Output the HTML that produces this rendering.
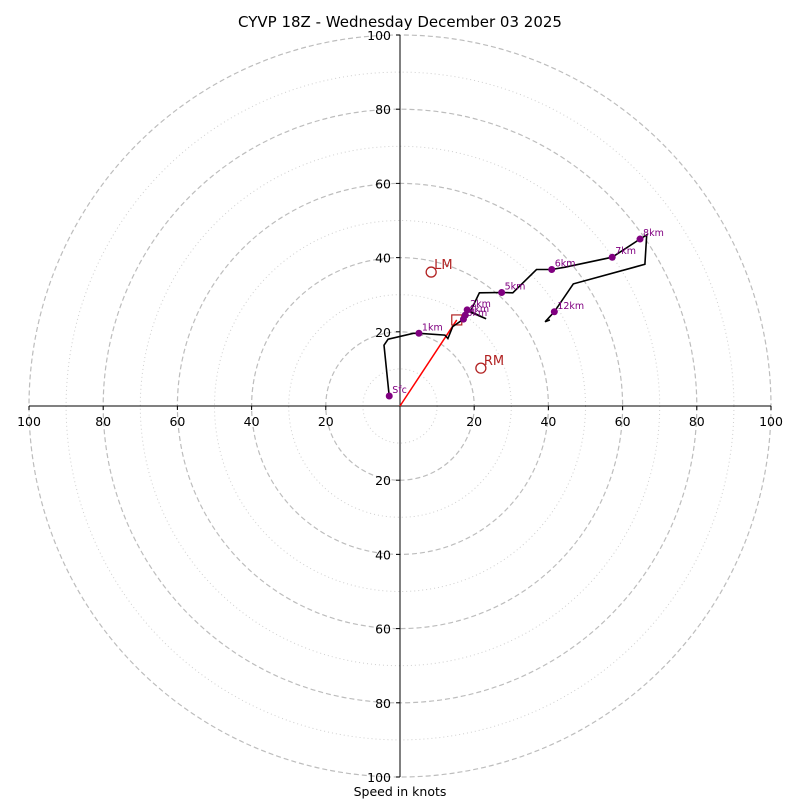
<!DOCTYPE html>
<html><head><meta charset="utf-8"><style>
body{margin:0;background:#fff;}
svg{display:block;font-family:"DejaVu Sans","Liberation Sans",sans-serif;}
</style></head><body>
<svg id="c" width="800" height="800" viewBox="0 0 800 800">
<text x="400" y="27" text-anchor="middle" font-size="15">CYVP 18Z - Wednesday December 03 2025</text>
<text x="400" y="796" text-anchor="middle" font-size="12.5">Speed in knots</text>
<g id="grid"></g><g id="axes"></g><g id="plot"></g>
</svg>
<script>
const ringsDashed=[20,40,60,80,100];
const ringsDotted=[10,30,50,70,90];
const tickVals=[20,40,60,80,100];
const traceU=[-2.9,-4.3,-3.2,3.6,5.1,12.1,12.9,14.2,17.1,17.8,18.1,23.2,18.9,21.4,27.4,30.4,36.8,40.9,44.5,57.2,64.7,66.5,66.0,46.7,41.6,39.1,40.4];
const traceV=[2.7,16.4,18.0,19.6,19.6,19.1,18.2,21.4,23.4,25.0,25.9,23.5,25.3,30.5,30.6,30.5,36.8,36.8,37.4,40.1,45.0,46.1,38.2,32.9,25.4,22.7,23.2];
const markLabels=["Sfc","1km","2km","3km","4km","5km","6km","7km","8km","12km"];
const markU=[-2.9,5.1,18.1,17.1,17.6,27.4,40.9,57.2,64.7,41.6];
const markV=[2.7,19.6,25.9,23.4,24.5,30.6,36.8,40.1,45.0,25.4];
const stormLabels=["LM","RM"];
const stormU=[8.4,21.8];
const stormV=[36.1,10.2];
const meanWind=[15.3,23.2];

const cx=400,cy=406,k=3.71;
const X=u=>cx+u*k, Y=v=>cy-v*k;
const NS="http://www.w3.org/2000/svg";
function mk(tag,parent,attrs){const e=document.createElementNS(NS,tag);for(const a in attrs)e.setAttribute(a,attrs[a]);document.getElementById(parent).appendChild(e);return e;}

ringsDashed.forEach(r=>{const e=mk('circle','grid',{cx:cx,cy:cy,r:r*k,fill:'none',stroke:'#bdbdbd','stroke-width':1.2,'stroke-dasharray':'5,3'});

});
ringsDotted.forEach(r=>{const e=mk('circle','grid',{cx:cx,cy:cy,r:r*k,fill:'none',stroke:'#cfcfcf','stroke-width':1,'stroke-dasharray':'1,3'});

});

let a=mk('line','axes',{x1:X(-100),y1:cy,x2:X(100),y2:cy,stroke:'#000','stroke-width':1});


a=mk('line','axes',{x1:cx,y1:Y(100),x2:cx,y2:Y(-100),stroke:'#000','stroke-width':1});


tickVals.forEach(t=>{
 [t,-t].forEach(s=>{
  mk('line','axes',{x1:X(s),y1:cy,x2:X(s),y2:cy+4,stroke:'#000'});
  let e=mk('text','axes',{x:X(s),y:cy+20,'text-anchor':'middle','font-size':12.5});e.textContent=t;
  
  
  mk('line','axes',{x1:cx-4,y1:Y(s),x2:cx,y2:Y(s),stroke:'#000'});
  e=mk('text','axes',{x:cx-9,y:Y(s)+5,'text-anchor':'end','font-size':12.5});e.textContent=t;
  
  
 });
});

let ar=mk('line','plot',{x1:X(0),y1:Y(0),x2:X(meanWind[0]),y2:Y(meanWind[1]),stroke:'#ff0000','stroke-width':1.5});


let sq=mk('rect','plot',{x:X(meanWind[0])-5,y:Y(meanWind[1])-5,width:10,height:10,fill:'none',stroke:'#b22222','stroke-width':1.2});



let pts=traceU.map((u,i)=>X(u).toFixed(1)+','+Y(traceV[i]).toFixed(1)).join(' ');
let pl=mk('polyline','plot',{points:pts,fill:'none',stroke:'#000','stroke-width':1.6});



markLabels.forEach((l,i)=>{
 let c=mk('circle','plot',{cx:X(markU[i]),cy:Y(markV[i]),r:3.5,fill:'#800080'});
 
 
 let t=mk('text','plot',{x:X(markU[i])+3,y:Y(markV[i])-3,'font-size':9.5,fill:'#800080'});t.textContent=l;
 
 
});
stormLabels.forEach((l,i)=>{
 let c=mk('circle','plot',{cx:X(stormU[i]),cy:Y(stormV[i]),r:5,fill:'none',stroke:'#b22222','stroke-width':1.3});
 
 
 let t=mk('text','plot',{x:X(stormU[i])+3,y:Y(stormV[i])-3,'font-size':13,fill:'#b22222'});t.textContent=l;
 
 
});
</script>
</body></html>
